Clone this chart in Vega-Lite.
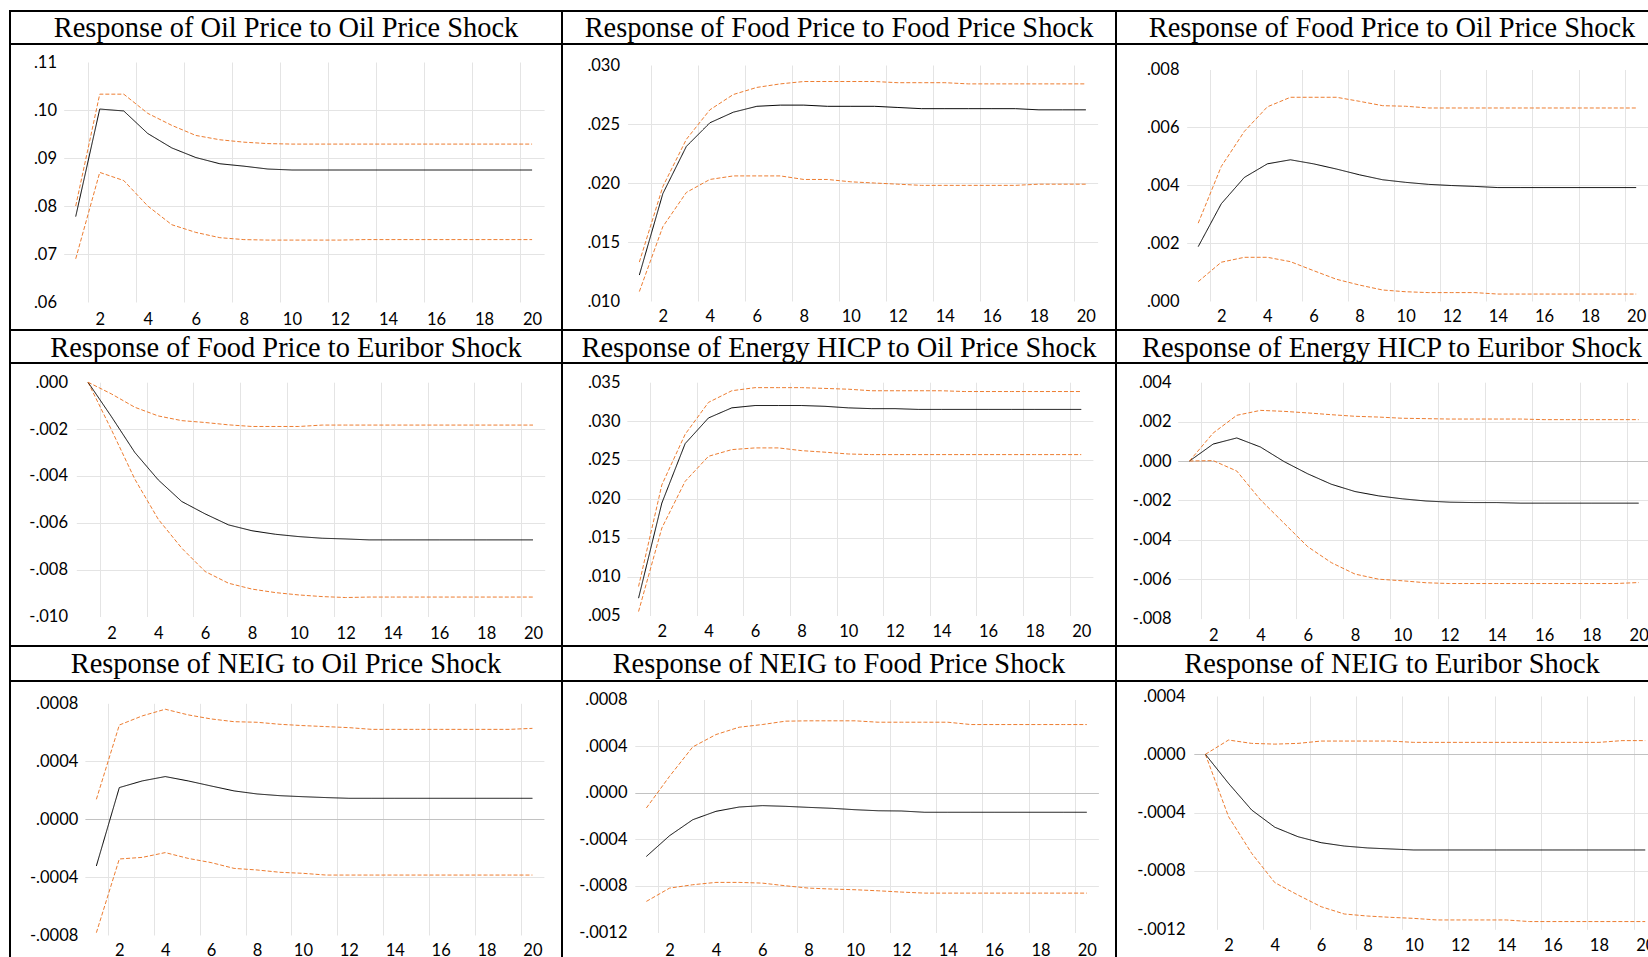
{
  "$schema": "https://vega.github.io/schema/vega-lite/v6.json",
  "background": "white",
  "padding": {"left": 9, "top": 10, "right": 0, "bottom": 0},
  "spacing": 0,
  "bounds": "flush",
  "columns": 3,
  "config": {
    "view": {"stroke": "black", "strokeWidth": 2},
    "concat": {"spacing": 0},
    "axis": {"domain": false, "ticks": false, "labelPadding": 0, "labelFont": "Lato", "labelFontSize": 16.5, "labelColor": "#000000", "gridColor": "#e4e4e4", "gridWidth": 1, "labelOverlap": false, "labelFlush": false},
    "line": {"strokeWidth": 1},
    "text": {"font": "Liberation Serif", "fontSize": 28.4, "baseline": "alphabetic", "align": "center", "color": "#000000"}
  },
  "datasets": {
    "p1": [
      {"h":1,"lo":0.0690,"mid":0.0778,"hi":0.0800},
      {"h":2,"lo":0.0870,"mid":0.1002,"hi":0.1033},
      {"h":3,"lo":0.0853,"mid":0.0998,"hi":0.1033},
      {"h":4,"lo":0.0800,"mid":0.0951,"hi":0.0993},
      {"h":5,"lo":0.0761,"mid":0.0921,"hi":0.0968},
      {"h":6,"lo":0.0745,"mid":0.0901,"hi":0.0947},
      {"h":7,"lo":0.0734,"mid":0.0888,"hi":0.0938},
      {"h":8,"lo":0.0730,"mid":0.0883,"hi":0.0933},
      {"h":9,"lo":0.0729,"mid":0.0877,"hi":0.0930},
      {"h":10,"lo":0.0729,"mid":0.0875,"hi":0.0929},
      {"h":11,"lo":0.0729,"mid":0.0875,"hi":0.0929},
      {"h":12,"lo":0.0729,"mid":0.0875,"hi":0.0929},
      {"h":13,"lo":0.0730,"mid":0.0875,"hi":0.0929},
      {"h":14,"lo":0.0730,"mid":0.0875,"hi":0.0929},
      {"h":15,"lo":0.0730,"mid":0.0875,"hi":0.0929},
      {"h":16,"lo":0.0730,"mid":0.0875,"hi":0.0929},
      {"h":17,"lo":0.0730,"mid":0.0875,"hi":0.0929},
      {"h":18,"lo":0.0730,"mid":0.0875,"hi":0.0929},
      {"h":19,"lo":0.0730,"mid":0.0875,"hi":0.0929},
      {"h":20,"lo":0.0730,"mid":0.0875,"hi":0.0929}
    ],
    "p2": [
      {"h":1,"lo":0.0108,"mid":0.0122,"hi":0.0133},
      {"h":2,"lo":0.0163,"mid":0.0191,"hi":0.0197},
      {"h":3,"lo":0.0192,"mid":0.0231,"hi":0.0237},
      {"h":4,"lo":0.0203,"mid":0.0251,"hi":0.0262},
      {"h":5,"lo":0.0206,"mid":0.0260,"hi":0.0275},
      {"h":6,"lo":0.0206,"mid":0.0265,"hi":0.0281},
      {"h":7,"lo":0.0206,"mid":0.0266,"hi":0.0284},
      {"h":8,"lo":0.0203,"mid":0.0266,"hi":0.0286},
      {"h":9,"lo":0.0203,"mid":0.0265,"hi":0.0286},
      {"h":10,"lo":0.0201,"mid":0.0265,"hi":0.0286},
      {"h":11,"lo":0.0200,"mid":0.0265,"hi":0.0286},
      {"h":12,"lo":0.0199,"mid":0.0264,"hi":0.0285},
      {"h":13,"lo":0.0198,"mid":0.0263,"hi":0.0285},
      {"h":14,"lo":0.0198,"mid":0.0263,"hi":0.0285},
      {"h":15,"lo":0.0198,"mid":0.0263,"hi":0.0284},
      {"h":16,"lo":0.0198,"mid":0.0263,"hi":0.0284},
      {"h":17,"lo":0.0198,"mid":0.0263,"hi":0.0284},
      {"h":18,"lo":0.0199,"mid":0.0262,"hi":0.0284},
      {"h":19,"lo":0.0199,"mid":0.0262,"hi":0.0284},
      {"h":20,"lo":0.0199,"mid":0.0262,"hi":0.0284}
    ],
    "p3": [
      {"h":1,"lo":0.00067,"mid":0.00188,"hi":0.00269},
      {"h":2,"lo":0.00134,"mid":0.00336,"hi":0.00465},
      {"h":3,"lo":0.00151,"mid":0.00427,"hi":0.00586},
      {"h":4,"lo":0.00151,"mid":0.00474,"hi":0.00671},
      {"h":5,"lo":0.00136,"mid":0.00488,"hi":0.00704},
      {"h":6,"lo":0.00105,"mid":0.00474,"hi":0.00704},
      {"h":7,"lo":0.00075,"mid":0.00456,"hi":0.00704},
      {"h":8,"lo":0.00055,"mid":0.00436,"hi":0.00690},
      {"h":9,"lo":0.00038,"mid":0.00419,"hi":0.00675},
      {"h":10,"lo":0.00032,"mid":0.00410,"hi":0.00673},
      {"h":11,"lo":0.00029,"mid":0.00403,"hi":0.00667},
      {"h":12,"lo":0.00029,"mid":0.00399,"hi":0.00667},
      {"h":13,"lo":0.00029,"mid":0.00396,"hi":0.00667},
      {"h":14,"lo":0.00024,"mid":0.00392,"hi":0.00667},
      {"h":15,"lo":0.00024,"mid":0.00392,"hi":0.00667},
      {"h":16,"lo":0.00024,"mid":0.00392,"hi":0.00667},
      {"h":17,"lo":0.00024,"mid":0.00392,"hi":0.00667},
      {"h":18,"lo":0.00024,"mid":0.00392,"hi":0.00667},
      {"h":19,"lo":0.00024,"mid":0.00392,"hi":0.00667},
      {"h":20,"lo":0.00024,"mid":0.00392,"hi":0.00667}
    ],
    "p4": [
      {"h":1,"lo":0.0,"mid":0.0,"hi":0.0},
      {"h":2,"lo":-0.00203,"mid":-0.00147,"hi":-0.00050},
      {"h":3,"lo":-0.00414,"mid":-0.00300,"hi":-0.00107},
      {"h":4,"lo":-0.00585,"mid":-0.00417,"hi":-0.00144},
      {"h":5,"lo":-0.00708,"mid":-0.00509,"hi":-0.00164},
      {"h":6,"lo":-0.00808,"mid":-0.00562,"hi":-0.00172},
      {"h":7,"lo":-0.00858,"mid":-0.00609,"hi":-0.00182},
      {"h":8,"lo":-0.00883,"mid":-0.00634,"hi":-0.00189},
      {"h":9,"lo":-0.00898,"mid":-0.00649,"hi":-0.00189},
      {"h":10,"lo":-0.00908,"mid":-0.00659,"hi":-0.00189},
      {"h":11,"lo":-0.00915,"mid":-0.00666,"hi":-0.00183},
      {"h":12,"lo":-0.00919,"mid":-0.00669,"hi":-0.00183},
      {"h":13,"lo":-0.00917,"mid":-0.00673,"hi":-0.00183},
      {"h":14,"lo":-0.00917,"mid":-0.00673,"hi":-0.00183},
      {"h":15,"lo":-0.00917,"mid":-0.00673,"hi":-0.00183},
      {"h":16,"lo":-0.00917,"mid":-0.00673,"hi":-0.00183},
      {"h":17,"lo":-0.00917,"mid":-0.00673,"hi":-0.00183},
      {"h":18,"lo":-0.00917,"mid":-0.00673,"hi":-0.00183},
      {"h":19,"lo":-0.00917,"mid":-0.00673,"hi":-0.00183},
      {"h":20,"lo":-0.00917,"mid":-0.00673,"hi":-0.00183}
    ],
    "p5": [
      {"h":1,"lo":0.00551,"mid":0.00723,"hi":0.00873},
      {"h":2,"lo":0.01625,"mid":0.01946,"hi":0.0218},
      {"h":3,"lo":0.02225,"mid":0.0271,"hi":0.0283},
      {"h":4,"lo":0.02547,"mid":0.0304,"hi":0.0324},
      {"h":5,"lo":0.02633,"mid":0.0317,"hi":0.0339},
      {"h":6,"lo":0.02655,"mid":0.0320,"hi":0.0343},
      {"h":7,"lo":0.02655,"mid":0.0320,"hi":0.0343},
      {"h":8,"lo":0.0262,"mid":0.0320,"hi":0.0343},
      {"h":9,"lo":0.0260,"mid":0.0319,"hi":0.0342},
      {"h":10,"lo":0.02577,"mid":0.0317,"hi":0.0341},
      {"h":11,"lo":0.02569,"mid":0.0316,"hi":0.0339},
      {"h":12,"lo":0.02569,"mid":0.0316,"hi":0.0339},
      {"h":13,"lo":0.02569,"mid":0.0315,"hi":0.0339},
      {"h":14,"lo":0.02569,"mid":0.0315,"hi":0.0339},
      {"h":15,"lo":0.02569,"mid":0.0315,"hi":0.0338},
      {"h":16,"lo":0.02569,"mid":0.0315,"hi":0.0338},
      {"h":17,"lo":0.02569,"mid":0.0315,"hi":0.0338},
      {"h":18,"lo":0.02569,"mid":0.0315,"hi":0.0338},
      {"h":19,"lo":0.02569,"mid":0.0315,"hi":0.0338},
      {"h":20,"lo":0.02569,"mid":0.0315,"hi":0.0338}
    ],
    "p6": [
      {"h":1,"lo":0.0,"mid":0.0,"hi":0.0},
      {"h":2,"lo":0.00002,"mid":0.00086,"hi":0.00142},
      {"h":3,"lo":-0.00051,"mid":0.00117,"hi":0.00232},
      {"h":4,"lo":-0.00197,"mid":0.00071,"hi":0.00257},
      {"h":5,"lo":-0.00316,"mid":-0.00003,"hi":0.00252},
      {"h":6,"lo":-0.00435,"mid":-0.00065,"hi":0.00244},
      {"h":7,"lo":-0.00516,"mid":-0.00118,"hi":0.00235},
      {"h":8,"lo":-0.00574,"mid":-0.00155,"hi":0.00227},
      {"h":9,"lo":-0.00600,"mid":-0.00177,"hi":0.00223},
      {"h":10,"lo":-0.00608,"mid":-0.00192,"hi":0.00217},
      {"h":11,"lo":-0.00618,"mid":-0.00203,"hi":0.00215},
      {"h":12,"lo":-0.00622,"mid":-0.00209,"hi":0.00213},
      {"h":13,"lo":-0.00622,"mid":-0.00211,"hi":0.00213},
      {"h":14,"lo":-0.00622,"mid":-0.00211,"hi":0.00213},
      {"h":15,"lo":-0.00622,"mid":-0.00214,"hi":0.00213},
      {"h":16,"lo":-0.00622,"mid":-0.00214,"hi":0.00210},
      {"h":17,"lo":-0.00622,"mid":-0.00214,"hi":0.00210},
      {"h":18,"lo":-0.00622,"mid":-0.00214,"hi":0.00210},
      {"h":19,"lo":-0.00622,"mid":-0.00214,"hi":0.00210},
      {"h":20,"lo":-0.00617,"mid":-0.00214,"hi":0.00210}
    ],
    "p7": [
      {"h":1,"lo":-0.000784,"mid":-0.000323,"hi":0.000137},
      {"h":2,"lo":-0.000275,"mid":0.000218,"hi":0.000650},
      {"h":3,"lo":-0.000264,"mid":0.000264,"hi":0.000713},
      {"h":4,"lo":-0.000231,"mid":0.000294,"hi":0.000759},
      {"h":5,"lo":-0.000271,"mid":0.000264,"hi":0.000720},
      {"h":6,"lo":-0.000300,"mid":0.000229,"hi":0.000692},
      {"h":7,"lo":-0.000340,"mid":0.000195,"hi":0.000673},
      {"h":8,"lo":-0.000351,"mid":0.000174,"hi":0.000669},
      {"h":9,"lo":-0.000367,"mid":0.000162,"hi":0.000655},
      {"h":10,"lo":-0.000374,"mid":0.000155,"hi":0.000646},
      {"h":11,"lo":-0.000386,"mid":0.000149,"hi":0.000639},
      {"h":12,"lo":-0.000386,"mid":0.000144,"hi":0.000632},
      {"h":13,"lo":-0.000386,"mid":0.000144,"hi":0.000620},
      {"h":14,"lo":-0.000386,"mid":0.000144,"hi":0.000620},
      {"h":15,"lo":-0.000386,"mid":0.000144,"hi":0.000620},
      {"h":16,"lo":-0.000386,"mid":0.000144,"hi":0.000620},
      {"h":17,"lo":-0.000386,"mid":0.000144,"hi":0.000620},
      {"h":18,"lo":-0.000386,"mid":0.000144,"hi":0.000620},
      {"h":19,"lo":-0.000386,"mid":0.000144,"hi":0.000620},
      {"h":20,"lo":-0.000386,"mid":0.000144,"hi":0.000627}
    ],
    "p8": [
      {"h":1,"lo":-0.000933,"mid":-0.000547,"hi":-0.000131},
      {"h":2,"lo":-0.000819,"mid":-0.000369,"hi":0.000141},
      {"h":3,"lo":-0.000790,"mid":-0.000232,"hi":0.000393},
      {"h":4,"lo":-0.000770,"mid":-0.000160,"hi":0.000499},
      {"h":5,"lo":-0.000770,"mid":-0.000123,"hi":0.000562},
      {"h":6,"lo":-0.000776,"mid":-0.000111,"hi":0.000585},
      {"h":7,"lo":-0.000799,"mid":-0.000117,"hi":0.000614},
      {"h":8,"lo":-0.000819,"mid":-0.000126,"hi":0.000617},
      {"h":9,"lo":-0.000827,"mid":-0.000134,"hi":0.000617},
      {"h":10,"lo":-0.000833,"mid":-0.000146,"hi":0.000617},
      {"h":11,"lo":-0.000842,"mid":-0.000155,"hi":0.000605},
      {"h":12,"lo":-0.000853,"mid":-0.000157,"hi":0.000605},
      {"h":13,"lo":-0.000862,"mid":-0.000168,"hi":0.000605},
      {"h":14,"lo":-0.000862,"mid":-0.000168,"hi":0.000605},
      {"h":15,"lo":-0.000862,"mid":-0.000168,"hi":0.000585},
      {"h":16,"lo":-0.000862,"mid":-0.000168,"hi":0.000585},
      {"h":17,"lo":-0.000862,"mid":-0.000168,"hi":0.000585},
      {"h":18,"lo":-0.000862,"mid":-0.000168,"hi":0.000585},
      {"h":19,"lo":-0.000862,"mid":-0.000168,"hi":0.000585},
      {"h":20,"lo":-0.000862,"mid":-0.000168,"hi":0.000585}
    ],
    "p9": [
      {"h":1,"lo":0.0,"mid":0.0,"hi":0.0},
      {"h":2,"lo":-0.000427,"mid":-0.000199,"hi":0.000098},
      {"h":3,"lo":-0.000679,"mid":-0.000382,"hi":0.000075},
      {"h":4,"lo":-0.000880,"mid":-0.000500,"hi":0.000070},
      {"h":5,"lo":-0.000965,"mid":-0.000565,"hi":0.000075},
      {"h":6,"lo":-0.001045,"mid":-0.000606,"hi":0.000091},
      {"h":7,"lo":-0.001095,"mid":-0.000629,"hi":0.000091},
      {"h":8,"lo":-0.001109,"mid":-0.000642,"hi":0.000091},
      {"h":9,"lo":-0.001118,"mid":-0.000649,"hi":0.000091},
      {"h":10,"lo":-0.001125,"mid":-0.000656,"hi":0.000082},
      {"h":11,"lo":-0.001136,"mid":-0.000656,"hi":0.000082},
      {"h":12,"lo":-0.001136,"mid":-0.000656,"hi":0.000082},
      {"h":13,"lo":-0.001136,"mid":-0.000656,"hi":0.000082},
      {"h":14,"lo":-0.001136,"mid":-0.000656,"hi":0.000082},
      {"h":15,"lo":-0.001147,"mid":-0.000656,"hi":0.000082},
      {"h":16,"lo":-0.001147,"mid":-0.000656,"hi":0.000082},
      {"h":17,"lo":-0.001147,"mid":-0.000656,"hi":0.000082},
      {"h":18,"lo":-0.001147,"mid":-0.000656,"hi":0.000082},
      {"h":19,"lo":-0.001147,"mid":-0.000656,"hi":0.000094},
      {"h":20,"lo":-0.001147,"mid":-0.000656,"hi":0.000094}
    ]
  },
  "concat": [
      {"width": 552, "height": 33, "data": {"values": [{"t": "Response of Oil Price to Oil Price Shock"}]}, "layer": [{"mark": {"type": "rect", "fill": "transparent", "stroke": "black", "strokeWidth": 2}, "encoding": {}}, {"mark": {"type": "text", "dy": 9.2}, "encoding": {"text": {"field": "t", "type": "nominal"}}}]},
      {"width": 554, "height": 33, "data": {"values": [{"t": "Response of Food Price to Food Price Shock"}]}, "layer": [{"mark": {"type": "rect", "fill": "transparent", "stroke": "black", "strokeWidth": 2}, "encoding": {}}, {"mark": {"type": "text", "dy": 9.2}, "encoding": {"text": {"field": "t", "type": "nominal"}}}]},
      {"width": 552, "height": 33, "data": {"values": [{"t": "Response of Food Price to Oil Price Shock"}]}, "layer": [{"mark": {"type": "rect", "fill": "transparent", "stroke": "black", "strokeWidth": 2}, "encoding": {}}, {"mark": {"type": "text", "dy": 9.2}, "encoding": {"text": {"field": "t", "type": "nominal"}}}]},
      {"width": 552, "height": 286, "data": {"name": "p1"}, "transform": [{"fold": ["lo", "mid", "hi"], "as": ["s", "v"]}], "mark": {"type": "line"},
       "encoding": {
        "x": {"field": "h", "type": "quantitative", "title": null, "scale": {"domain": [0.5, 20.5], "range": [53.7, 534.1], "nice": false, "zero": false},
              "axis": {"orient": "top", "values": [1.5,2,3.5,4,5.5,6,7.5,8,9.5,10,11.5,12,13.5,14,15.5,16,17.5,18,19.5,20], "labelExpr": "datum.value % 2 === 0 ? format(datum.value, 'd') : ''", "gridOpacity": {"condition": {"test": "datum.value % 2 === 0", "value": 0}, "value": 1}, "offset": -275.2, "labelBaseline": "middle"}},
        "y": {"field": "v", "type": "quantitative", "title": null, "scale": {"domain": [0.06, 0.11], "range": [258, 18], "nice": false, "zero": false},
              "axis": {"values": [0.06,0.07,0.08,0.09,0.10,0.11], "labelExpr": "(datum.value < 0 ? '-' : '') + replace(format(abs(datum.value), '.2f'), '0.', '.')", "gridOpacity": {"condition": {"test": "datum.index === 0 || datum.index === 1", "value": 0}, "value": 1}, "gridColor": {"condition": {"test": "datum.value === 0", "value": "#c2c2c2"}, "value": "#e4e4e4"}, "offset": -46.5}},
        "color": {"field": "s", "type": "nominal", "scale": {"domain": ["lo", "mid", "hi"], "range": ["#ED7D31", "#000000", "#ED7D31"]}, "legend": null},
        "strokeWidth": {"field": "s", "type": "nominal", "scale": {"domain": ["lo", "mid", "hi"], "range": [1, 1.3, 1]}, "legend": null},
        "strokeDash": {"field": "s", "type": "nominal", "scale": {"domain": ["lo", "mid", "hi"], "range": [[4, 2], [1, 0], [4, 2]]}, "legend": null}
       }},
      {"width": 554, "height": 286, "data": {"name": "p2"}, "transform": [{"fold": ["lo", "mid", "hi"], "as": ["s", "v"]}], "mark": {"type": "line"},
       "encoding": {
        "x": {"field": "h", "type": "quantitative", "title": null, "scale": {"domain": [0.5, 20.5], "range": [65.6, 535.6], "nice": false, "zero": false},
              "axis": {"orient": "top", "values": [1.5,2,3.5,4,5.5,6,7.5,8,9.5,10,11.5,12,13.5,14,15.5,16,17.5,18,19.5,20], "labelExpr": "datum.value % 2 === 0 ? format(datum.value, 'd') : ''", "gridOpacity": {"condition": {"test": "datum.value % 2 === 0", "value": 0}, "value": 1}, "offset": -272.5, "labelBaseline": "middle"}},
        "y": {"field": "v", "type": "quantitative", "title": null, "scale": {"domain": [0.010, 0.030], "range": [257, 21], "nice": false, "zero": false},
              "axis": {"values": [0.010,0.015,0.020,0.025,0.030], "labelExpr": "(datum.value < 0 ? '-' : '') + replace(format(abs(datum.value), '.3f'), '0.', '.')", "gridOpacity": {"condition": {"test": "datum.index === 0 || datum.index === 1", "value": 0}, "value": 1}, "gridColor": {"condition": {"test": "datum.value === 0", "value": "#c2c2c2"}, "value": "#e4e4e4"}, "offset": -57.5}},
        "color": {"field": "s", "type": "nominal", "scale": {"domain": ["lo", "mid", "hi"], "range": ["#ED7D31", "#000000", "#ED7D31"]}, "legend": null},
        "strokeWidth": {"field": "s", "type": "nominal", "scale": {"domain": ["lo", "mid", "hi"], "range": [1, 1.3, 1]}, "legend": null},
        "strokeDash": {"field": "s", "type": "nominal", "scale": {"domain": ["lo", "mid", "hi"], "range": [[4, 2], [1, 0], [4, 2]]}, "legend": null}
       }},
      {"width": 552, "height": 286, "data": {"name": "p3"}, "transform": [{"fold": ["lo", "mid", "hi"], "as": ["s", "v"]}], "mark": {"type": "line"},
       "encoding": {
        "x": {"field": "h", "type": "quantitative", "title": null, "scale": {"domain": [0.5, 20.5], "range": [70.7, 531.7], "nice": false, "zero": false},
              "axis": {"orient": "top", "values": [1.5,2,3.5,4,5.5,6,7.5,8,9.5,10,11.5,12,13.5,14,15.5,16,17.5,18,19.5,20], "labelExpr": "datum.value % 2 === 0 ? format(datum.value, 'd') : ''", "gridOpacity": {"condition": {"test": "datum.value % 2 === 0", "value": 0}, "value": 1}, "offset": -272.5, "labelBaseline": "middle"}},
        "y": {"field": "v", "type": "quantitative", "title": null, "scale": {"domain": [0, 0.008], "range": [257, 25.5], "nice": false, "zero": false},
              "axis": {"values": [0,0.002,0.004,0.006,0.008], "labelExpr": "(datum.value < 0 ? '-' : '') + replace(format(abs(datum.value), '.3f'), '0.', '.')", "gridOpacity": {"condition": {"test": "datum.index === 0 || datum.index === 1", "value": 0}, "value": 1}, "gridColor": {"condition": {"test": "datum.value === 0", "value": "#c2c2c2"}, "value": "#e4e4e4"}, "offset": -63}},
        "color": {"field": "s", "type": "nominal", "scale": {"domain": ["lo", "mid", "hi"], "range": ["#ED7D31", "#000000", "#ED7D31"]}, "legend": null},
        "strokeWidth": {"field": "s", "type": "nominal", "scale": {"domain": ["lo", "mid", "hi"], "range": [1, 1.3, 1]}, "legend": null},
        "strokeDash": {"field": "s", "type": "nominal", "scale": {"domain": ["lo", "mid", "hi"], "range": [[4, 2], [1, 0], [4, 2]]}, "legend": null}
       }},
      {"width": 552, "height": 33, "data": {"values": [{"t": "Response of Food Price to Euribor Shock"}]}, "layer": [{"mark": {"type": "rect", "fill": "transparent", "stroke": "black", "strokeWidth": 2}, "encoding": {}}, {"mark": {"type": "text", "dy": 10}, "encoding": {"text": {"field": "t", "type": "nominal"}}}]},
      {"width": 554, "height": 33, "data": {"values": [{"t": "Response of Energy HICP to Oil Price Shock"}]}, "layer": [{"mark": {"type": "rect", "fill": "transparent", "stroke": "black", "strokeWidth": 2}, "encoding": {}}, {"mark": {"type": "text", "dy": 10}, "encoding": {"text": {"field": "t", "type": "nominal"}}}]},
      {"width": 552, "height": 33, "data": {"values": [{"t": "Response of Energy HICP to Euribor Shock"}]}, "layer": [{"mark": {"type": "rect", "fill": "transparent", "stroke": "black", "strokeWidth": 2}, "encoding": {}}, {"mark": {"type": "text", "dy": 10}, "encoding": {"text": {"field": "t", "type": "nominal"}}}]},
      {"width": 552, "height": 283, "data": {"name": "p4"}, "transform": [{"fold": ["lo", "mid", "hi"], "as": ["s", "v"]}], "mark": {"type": "line"},
       "encoding": {
        "x": {"field": "h", "type": "quantitative", "title": null, "scale": {"domain": [0.5, 20.5], "range": [66.3, 534.7], "nice": false, "zero": false},
              "axis": {"orient": "top", "values": [1.5,2,3.5,4,5.5,6,7.5,8,9.5,10,11.5,12,13.5,14,15.5,16,17.5,18,19.5,20], "labelExpr": "datum.value % 2 === 0 ? format(datum.value, 'd') : ''", "gridOpacity": {"condition": {"test": "datum.value % 2 === 0", "value": 0}, "value": 1}, "offset": -270.5, "labelBaseline": "middle"}},
        "y": {"field": "v", "type": "quantitative", "title": null, "scale": {"domain": [-0.010, 0], "range": [253.5, 19.2], "nice": false, "zero": false},
              "axis": {"values": [-0.010,-0.008,-0.006,-0.004,-0.002,0], "labelExpr": "(datum.value < 0 ? '-' : '') + replace(format(abs(datum.value), '.3f'), '0.', '.')", "gridOpacity": {"condition": {"test": "datum.index === 0 || datum.index === 1", "value": 0}, "value": 1}, "gridColor": {"condition": {"test": "datum.value === 0", "value": "#c2c2c2"}, "value": "#e4e4e4"}, "offset": -57.5}},
        "color": {"field": "s", "type": "nominal", "scale": {"domain": ["lo", "mid", "hi"], "range": ["#ED7D31", "#000000", "#ED7D31"]}, "legend": null},
        "strokeWidth": {"field": "s", "type": "nominal", "scale": {"domain": ["lo", "mid", "hi"], "range": [1, 1.3, 1]}, "legend": null},
        "strokeDash": {"field": "s", "type": "nominal", "scale": {"domain": ["lo", "mid", "hi"], "range": [[4, 2], [1, 0], [4, 2]]}, "legend": null}
       }},
      {"width": 554, "height": 283, "data": {"name": "p5"}, "transform": [{"fold": ["lo", "mid", "hi"], "as": ["s", "v"]}], "mark": {"type": "line"},
       "encoding": {
        "x": {"field": "h", "type": "quantitative", "title": null, "scale": {"domain": [0.5, 20.5], "range": [64.9, 530.9], "nice": false, "zero": false},
              "axis": {"orient": "top", "values": [1.5,2,3.5,4,5.5,6,7.5,8,9.5,10,11.5,12,13.5,14,15.5,16,17.5,18,19.5,20], "labelExpr": "datum.value % 2 === 0 ? format(datum.value, 'd') : ''", "gridOpacity": {"condition": {"test": "datum.value % 2 === 0", "value": 0}, "value": 1}, "offset": -268.7, "labelBaseline": "middle"}},
        "y": {"field": "v", "type": "quantitative", "title": null, "scale": {"domain": [0.005, 0.035], "range": [252.5, 19.2], "nice": false, "zero": false},
              "axis": {"values": [0.005,0.010,0.015,0.020,0.025,0.030,0.035], "labelExpr": "(datum.value < 0 ? '-' : '') + replace(format(abs(datum.value), '.3f'), '0.', '.')", "gridOpacity": {"condition": {"test": "datum.index === 0 || datum.index === 1", "value": 0}, "value": 1}, "gridColor": {"condition": {"test": "datum.value === 0", "value": "#c2c2c2"}, "value": "#e4e4e4"}, "offset": -58}},
        "color": {"field": "s", "type": "nominal", "scale": {"domain": ["lo", "mid", "hi"], "range": ["#ED7D31", "#000000", "#ED7D31"]}, "legend": null},
        "strokeWidth": {"field": "s", "type": "nominal", "scale": {"domain": ["lo", "mid", "hi"], "range": [1, 1.3, 1]}, "legend": null},
        "strokeDash": {"field": "s", "type": "nominal", "scale": {"domain": ["lo", "mid", "hi"], "range": [[4, 2], [1, 0], [4, 2]]}, "legend": null}
       }},
      {"width": 552, "height": 283, "data": {"name": "p6"}, "transform": [{"fold": ["lo", "mid", "hi"], "as": ["s", "v"]}], "mark": {"type": "line"},
       "encoding": {
        "x": {"field": "h", "type": "quantitative", "title": null, "scale": {"domain": [0.5, 20.5], "range": [61.7, 534.5], "nice": false, "zero": false},
              "axis": {"orient": "top", "values": [1.5,2,3.5,4,5.5,6,7.5,8,9.5,10,11.5,12,13.5,14,15.5,16,17.5,18,19.5,20], "labelExpr": "datum.value % 2 === 0 ? format(datum.value, 'd') : ''", "gridOpacity": {"condition": {"test": "datum.value % 2 === 0", "value": 0}, "value": 1}, "offset": -272, "labelBaseline": "middle"}},
        "y": {"field": "v", "type": "quantitative", "title": null, "scale": {"domain": [-0.008, 0.004], "range": [255.6, 19.2], "nice": false, "zero": false},
              "axis": {"values": [-0.008,-0.006,-0.004,-0.002,0,0.002,0.004], "labelExpr": "(datum.value < 0 ? '-' : '') + replace(format(abs(datum.value), '.3f'), '0.', '.')", "gridOpacity": {"condition": {"test": "datum.index === 0 || datum.index === 1", "value": 0}, "value": 1}, "gridColor": {"condition": {"test": "datum.value === 0", "value": "#c2c2c2"}, "value": "#e4e4e4"}, "offset": -55}},
        "color": {"field": "s", "type": "nominal", "scale": {"domain": ["lo", "mid", "hi"], "range": ["#ED7D31", "#000000", "#ED7D31"]}, "legend": null},
        "strokeWidth": {"field": "s", "type": "nominal", "scale": {"domain": ["lo", "mid", "hi"], "range": [1, 1.3, 1]}, "legend": null},
        "strokeDash": {"field": "s", "type": "nominal", "scale": {"domain": ["lo", "mid", "hi"], "range": [[4, 2], [1, 0], [4, 2]]}, "legend": null}
       }},
      {"width": 552, "height": 35, "data": {"values": [{"t": "Response of NEIG to Oil Price Shock"}]}, "layer": [{"mark": {"type": "rect", "fill": "transparent", "stroke": "black", "strokeWidth": 2}, "encoding": {}}, {"mark": {"type": "text", "dy": 9.8}, "encoding": {"text": {"field": "t", "type": "nominal"}}}]},
      {"width": 554, "height": 35, "data": {"values": [{"t": "Response of NEIG to Food Price Shock"}]}, "layer": [{"mark": {"type": "rect", "fill": "transparent", "stroke": "black", "strokeWidth": 2}, "encoding": {}}, {"mark": {"type": "text", "dy": 9.8}, "encoding": {"text": {"field": "t", "type": "nominal"}}}]},
      {"width": 552, "height": 35, "data": {"values": [{"t": "Response of NEIG to Euribor Shock"}]}, "layer": [{"mark": {"type": "rect", "fill": "transparent", "stroke": "black", "strokeWidth": 2}, "encoding": {}}, {"mark": {"type": "text", "dy": 9.8}, "encoding": {"text": {"field": "t", "type": "nominal"}}}]},
      {"width": 552, "height": 290, "data": {"name": "p7"}, "transform": [{"fold": ["lo", "mid", "hi"], "as": ["s", "v"]}], "mark": {"type": "line"},
       "encoding": {
        "x": {"field": "h", "type": "quantitative", "title": null, "scale": {"domain": [0.5, 20.5], "range": [74.9, 533.9], "nice": false, "zero": false},
              "axis": {"orient": "top", "values": [1.5,2,3.5,4,5.5,6,7.5,8,9.5,10,11.5,12,13.5,14,15.5,16,17.5,18,19.5,20], "labelExpr": "datum.value % 2 === 0 ? format(datum.value, 'd') : ''", "gridOpacity": {"condition": {"test": "datum.value % 2 === 0", "value": 0}, "value": 1}, "offset": -269, "labelBaseline": "middle"}},
        "y": {"field": "v", "type": "quantitative", "title": null, "scale": {"domain": [-0.0008, 0.0008], "range": [254, 22.3], "nice": false, "zero": false},
              "axis": {"values": [-0.0008,-0.0004,0,0.0004,0.0008], "labelExpr": "(datum.value < 0 ? '-' : '') + replace(format(abs(datum.value), '.4f'), '0.', '.')", "gridOpacity": {"condition": {"test": "datum.index === 0 || datum.index === 1", "value": 0}, "value": 1}, "gridColor": {"condition": {"test": "datum.value === 0", "value": "#c2c2c2"}, "value": "#e4e4e4"}, "offset": -67.8}},
        "color": {"field": "s", "type": "nominal", "scale": {"domain": ["lo", "mid", "hi"], "range": ["#ED7D31", "#000000", "#ED7D31"]}, "legend": null},
        "strokeWidth": {"field": "s", "type": "nominal", "scale": {"domain": ["lo", "mid", "hi"], "range": [1, 1.3, 1]}, "legend": null},
        "strokeDash": {"field": "s", "type": "nominal", "scale": {"domain": ["lo", "mid", "hi"], "range": [[4, 2], [1, 0], [4, 2]]}, "legend": null}
       }},
      {"width": 554, "height": 290, "data": {"name": "p8"}, "transform": [{"fold": ["lo", "mid", "hi"], "as": ["s", "v"]}], "mark": {"type": "line"},
       "encoding": {
        "x": {"field": "h", "type": "quantitative", "title": null, "scale": {"domain": [0.5, 20.5], "range": [72.8, 536.4], "nice": false, "zero": false},
              "axis": {"orient": "top", "values": [1.5,2,3.5,4,5.5,6,7.5,8,9.5,10,11.5,12,13.5,14,15.5,16,17.5,18,19.5,20], "labelExpr": "datum.value % 2 === 0 ? format(datum.value, 'd') : ''", "gridOpacity": {"condition": {"test": "datum.value % 2 === 0", "value": 0}, "value": 1}, "offset": -269, "labelBaseline": "middle"}},
        "y": {"field": "v", "type": "quantitative", "title": null, "scale": {"domain": [-0.0012, 0.0008], "range": [251.5, 18.5], "nice": false, "zero": false},
              "axis": {"values": [-0.0012,-0.0008,-0.0004,0,0.0004,0.0008], "labelExpr": "(datum.value < 0 ? '-' : '') + replace(format(abs(datum.value), '.4f'), '0.', '.')", "gridOpacity": {"condition": {"test": "datum.index === 0 || datum.index === 1", "value": 0}, "value": 1}, "gridColor": {"condition": {"test": "datum.value === 0", "value": "#c2c2c2"}, "value": "#e4e4e4"}, "offset": -65}},
        "color": {"field": "s", "type": "nominal", "scale": {"domain": ["lo", "mid", "hi"], "range": ["#ED7D31", "#000000", "#ED7D31"]}, "legend": null},
        "strokeWidth": {"field": "s", "type": "nominal", "scale": {"domain": ["lo", "mid", "hi"], "range": [1, 1.3, 1]}, "legend": null},
        "strokeDash": {"field": "s", "type": "nominal", "scale": {"domain": ["lo", "mid", "hi"], "range": [[4, 2], [1, 0], [4, 2]]}, "legend": null}
       }},
      {"width": 552, "height": 290, "data": {"name": "p9"}, "transform": [{"fold": ["lo", "mid", "hi"], "as": ["s", "v"]}], "mark": {"type": "line"},
       "encoding": {
        "x": {"field": "h", "type": "quantitative", "title": null, "scale": {"domain": [0.5, 20.5], "range": [77.8, 540.8], "nice": false, "zero": false},
              "axis": {"orient": "top", "values": [1.5,2,3.5,4,5.5,6,7.5,8,9.5,10,11.5,12,13.5,14,15.5,16,17.5,18,19.5,20], "labelExpr": "datum.value % 2 === 0 ? format(datum.value, 'd') : ''", "gridOpacity": {"condition": {"test": "datum.value % 2 === 0", "value": 0}, "value": 1}, "offset": -264, "labelBaseline": "middle"}},
        "y": {"field": "v", "type": "quantitative", "title": null, "scale": {"domain": [-0.0012, 0.0004], "range": [248.3, 15], "nice": false, "zero": false},
              "axis": {"values": [-0.0012,-0.0008,-0.0004,0,0.0004], "labelExpr": "(datum.value < 0 ? '-' : '') + replace(format(abs(datum.value), '.4f'), '0.', '.')", "gridOpacity": {"condition": {"test": "datum.index === 0 || datum.index === 1", "value": 0}, "value": 1}, "gridColor": {"condition": {"test": "datum.value === 0", "value": "#c2c2c2"}, "value": "#e4e4e4"}, "offset": -69}},
        "color": {"field": "s", "type": "nominal", "scale": {"domain": ["lo", "mid", "hi"], "range": ["#ED7D31", "#000000", "#ED7D31"]}, "legend": null},
        "strokeWidth": {"field": "s", "type": "nominal", "scale": {"domain": ["lo", "mid", "hi"], "range": [1, 1.3, 1]}, "legend": null},
        "strokeDash": {"field": "s", "type": "nominal", "scale": {"domain": ["lo", "mid", "hi"], "range": [[4, 2], [1, 0], [4, 2]]}, "legend": null}
       }}
  ]
}
